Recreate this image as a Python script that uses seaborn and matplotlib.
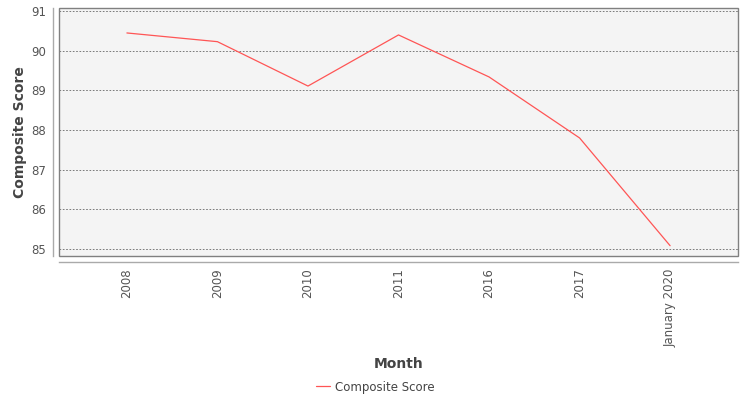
import pandas as pd
import matplotlib
matplotlib.use("Agg")
import matplotlib.pyplot as plt
import seaborn as sns
from matplotlib.patches import Rectangle

months = ["2008", "2009", "2010", "2011", "2016", "2017", "January 2020"]
scores = [90.45, 90.23, 89.11, 90.40, 89.34, 87.80, 85.08]

df = pd.DataFrame({"Month": months, "Composite Score": scores})
df["pos"] = range(len(df))

sns.set_style("white")
plt.rcParams["font.family"] = ["DejaVu Sans"]

fig = plt.figure(figsize=(7.5, 4), dpi=100)
ax = fig.add_axes([59 / 750, 1 - 256 / 400, 679 / 750, 248 / 400])
ax.set_facecolor("#f4f4f4")

sns.lineplot(data=df, x="pos", y="Composite Score", color="#ff5555",
             linewidth=0.9, label="Composite Score", ax=ax)

ax.set_xlim(-0.75, 6.75)
ax.set_ylim(84.82, 91.08)
ax.set_yticks([85, 86, 87, 88, 89, 90, 91])
ax.set_xticks(df["pos"])
ax.set_xticklabels(months)

ax.yaxis.grid(True, color="#666666", linestyle=(0, (2, 2)), linewidth=0.6)
ax.xaxis.grid(False)

# axis lines sit slightly outside the plot outline
for side in ["top", "right"]:
    ax.spines[side].set_visible(False)
for side in ["left", "bottom"]:
    ax.spines[side].set_color("#aaaaaa")
    ax.spines[side].set_linewidth(1.0)
ax.spines["left"].set_position(("outward", 4))
ax.spines["bottom"].set_position(("outward", 4))
ax.add_patch(Rectangle((0, 0), 1, 1, transform=ax.transAxes, fill=False,
                       edgecolor="#808080", linewidth=1.0, clip_on=False, zorder=5))

ax.tick_params(axis="both", colors="#aaaaaa", length=3, width=0.8,
               labelcolor="#555555", labelsize=8.5, pad=2)
ax.tick_params(axis="x", labelrotation=90)

ax.set_xlabel("Month", fontsize=10, fontweight="bold", color="#444444")
ax.set_ylabel("Composite Score", fontsize=10, fontweight="bold", color="#444444")
ax.xaxis.set_label_coords(0.5, (256 - 364) / 248)
ax.yaxis.set_label_coords((20 - 59) / 679, 0.5)
ax.xaxis.label.set_va("center")
ax.yaxis.label.set_va("center")

ax.legend(loc="center", bbox_to_anchor=((375 - 59) / 679, (256 - 387) / 248),
          frameon=False, fontsize=8.5, handlelength=1.2, handletextpad=0.4,
          labelcolor="#444444")

fig.savefig("out.png", dpi=100)
